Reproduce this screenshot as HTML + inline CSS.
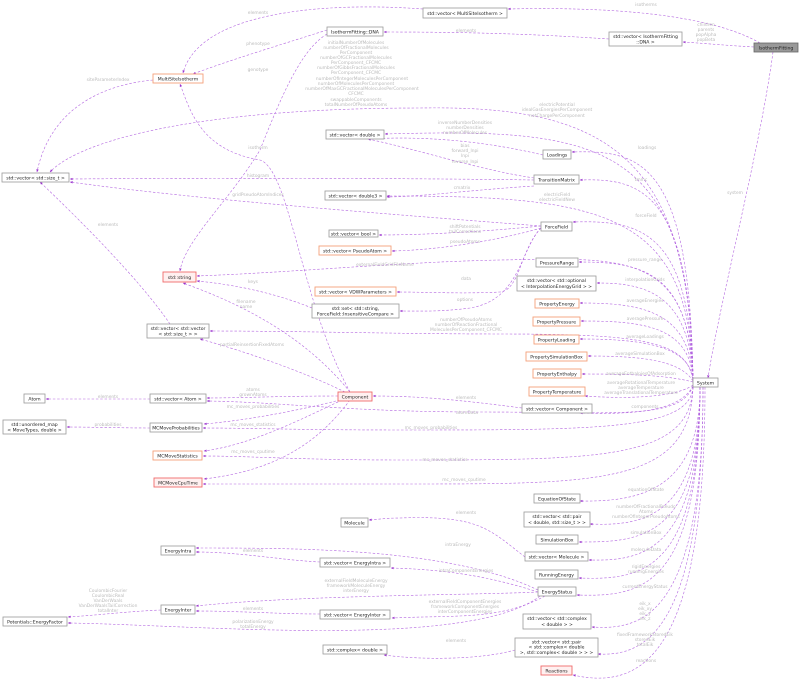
<!DOCTYPE html>
<html><head><meta charset="utf-8"><style>
html,body{margin:0;padding:0;background:#fff;}
svg{display:block;}
.n{fill:#fff;stroke:#999;stroke-width:0.8}
.o{fill:#fff;stroke:#f4a07a;stroke-width:0.9}
.r{fill:#fff0f0;stroke:#f06a6a;stroke-width:0.9}
.t{font-family:"DejaVu Sans","Liberation Sans",sans-serif;font-size:4.6px;fill:#222;text-anchor:middle}
.l{font-family:"DejaVu Sans","Liberation Sans",sans-serif;font-size:4.4px;fill:#bbb;text-anchor:middle}
.e{fill:none;stroke:#b366e0;stroke-width:0.6;stroke-dasharray:2.5,1.8}
</style></head><body>
<svg width="799" height="685" viewBox="0 0 799 685" xmlns="http://www.w3.org/2000/svg">
<defs><marker id="a" viewBox="0 0 10 10" refX="9" refY="5" markerWidth="5" markerHeight="5" orient="auto-start-reverse"><path d="M0,1 L10,5 L0,9 z" fill="#9a32cd"/></marker></defs>
<g class="e" marker-end="url(#a)">
<!-- IsothermFitting -->
<path d="M760,43 C720,20 640,6 508,9"/>
<path d="M754,47 C720,45 700,43 683,42"/>
<path d="M773,52 C760,150 720,300 708,378"/>
<path d="M609,39 C520,33 450,32 384,32"/>
<path d="M423,9 C330,2 200,10 183,73"/>
<path d="M327,30 C280,45 230,60 193,74"/>
<path d="M327,34 C300,50 280,100 260,150 C230,200 185,240 180,271"/>
<path d="M153,80 C100,85 50,110 37,172"/>
<path d="M350,392 C300,300 290,170 260,160 C200,150 190,110 180,84"/>
<path d="M693,380 C690,150 600,105 420,108 C200,108 80,140 50,172"/>
<!-- System to left nodes -->
<path d="M693,380 C690,140 600,128 385,134"/>
<path d="M693,380 C690,210 600,196 387,196"/>
<path d="M693,380 C690,160 640,150 572,152"/>
<path d="M693,380 C690,190 640,178 580,180"/>
<path d="M693,380 C690,230 640,220 573,222"/>
<path d="M693,380 C690,250 620,258 500,260 C400,262 300,272 197,276"/>
<path d="M693,383 C690,340 640,334 500,334 C400,334 300,331 210,331"/>
<path d="M693,380 C690,270 640,262 579,262"/>
<path d="M693,380 C690,290 640,283 597,283"/>
<path d="M693,380 C690,310 640,303 580,303"/>
<path d="M693,380 C690,325 640,321 581,321"/>
<path d="M693,380 C690,345 640,339 580,339"/>
<path d="M693,381 C680,360 640,356 588,356"/>
<path d="M693,382 C670,376 640,374 582,374"/>
<path d="M693,385 C680,395 640,400 585,396"/>
<path d="M693,386 C680,410 640,415 580,413"/>
<path d="M693,386 C680,420 620,412 480,412 C350,412 280,402 207,401"/>
<path d="M693,387 C690,430 600,430 400,430 C300,430 250,428 203,428"/>
<path d="M693,387 C690,460 600,460 400,460 C300,460 250,456 203,456"/>
<path d="M693,387 C690,485 600,484 400,484 C300,484 250,484 203,484"/>
<path d="M700,387 C700,490 640,502 580,501"/>
<path d="M700,387 C700,520 640,526 590,524"/>
<path d="M700,387 C700,540 640,542 579,542"/>
<path d="M700,387 C700,555 640,561 589,560"/>
<path d="M700,387 C700,575 640,580 579,578"/>
<path d="M700,387 C700,590 640,597 577,595"/>
<path d="M703,387 C703,620 640,630 592,627"/>
<path d="M703,387 C703,640 640,656 598,654"/>
<path d="M705,387 C705,660 640,690 573,675"/>
<path d="M693,386 C680,405 500,410 400,400 C390,398 380,396 373,396" style="display:none"/>
<!-- other classes -->
<path d="M543,155 C480,140 420,136 368,139"/>
<path d="M534,178 C480,170 420,150 368,139"/>
<path d="M534,180 C400,178 200,178 70,179"/>
<path d="M534,186 C470,190 430,196 387,197"/>
<path d="M541,226 C480,232 420,235 379,235"/>
<path d="M541,228 C500,240 440,250 392,251"/>
<path d="M541,228 C520,250 520,290 500,292 C460,294 430,292 397,292"/>
<path d="M541,228 C520,250 520,300 470,308 C440,312 420,311 400,311"/>
<path d="M541,226 C400,215 200,200 70,182"/>
<path d="M312,308 C280,295 240,285 197,281"/>
<path d="M350,392 C300,330 230,300 183,283"/>
<path d="M345,392 C300,370 240,350 200,339"/>
<path d="M338,396 C280,396 240,398 207,398"/>
<path d="M340,400 C300,410 250,420 204,424"/>
<path d="M342,400 C300,420 250,445 204,451"/>
<path d="M350,400 C320,440 280,470 204,479"/>
<path d="M170,324 C140,280 80,220 40,182"/>
<path d="M150,399 C120,399 80,399 46,399"/>
<path d="M150,428 C120,428 90,427 67,427"/>
<path d="M522,408 C460,400 420,396 373,396"/>
<path d="M525,557 C490,530 480,515 400,518 C390,518 380,519 369,520"/>
<path d="M538,590 C450,548 300,548 196,548"/>
<path d="M320,562 C280,560 240,552 196,552"/>
<path d="M538,592 C500,580 460,570 391,568"/>
<path d="M538,592 C480,595 300,595 196,606"/>
<path d="M320,614 C280,614 240,611 196,611"/>
<path d="M545,596 C500,620 460,615 392,618"/>
<path d="M161,610 C120,612 100,615 68,617"/>
<path d="M540,596 C470,650 200,625 68,623"/>
<path d="M515,650 C480,660 420,660 384,655"/>
</g>
<!-- labels -->
<g class="l">
<text x="646" y="6">isotherms</text>
<text x="706" y="26">children</text><text x="706" y="31">parents</text><text x="706" y="36">popAlpha</text><text x="706" y="41">popBeta</text>
<text x="466" y="32">elements</text>
<text x="258" y="14">elements</text>
<text x="258" y="45">phenotype</text>
<text x="258" y="71">genotype</text>
<text x="108" y="81">siteParameterIndex</text>
<text x="258" y="149">isotherm</text>
<text x="735" y="194">system</text>
<g><text x="356" y="44">initialNumberOfMolecules</text><text x="356" y="49">numberOfFractionalMolecules</text><text x="356" y="54">PerComponent</text><text x="356" y="59">numberOfGCFractionalMolecules</text><text x="356" y="64">PerComponent_CFCMC</text><text x="356" y="69">numberOfGibbsFractionalMolecules</text><text x="356" y="74">PerComponent_CFCMC</text><text x="362" y="80">numberOfIntegerMoleculesPerComponent</text><text x="356" y="85">numberOfMoleculesPerComponent</text><text x="362" y="90">numberOfMaxGCFractionalMoleculesPerComponent</text><text x="356" y="95">CFCMC</text><text x="356" y="101">swappableComponents</text><text x="356" y="106">totalNumberOfPseudoAtoms</text></g>
<text x="557" y="106">electricPotential</text><text x="557" y="111">idealGasEnergiesPerComponent</text><text x="557" y="117">netChargePerComponent</text>
<text x="465" y="124">inverseNumberDensities</text><text x="465" y="129">numberDensities</text><text x="465" y="134">numberOfMolecules</text>
<text x="465" y="147">bias</text><text x="465" y="152">forward_lnpi</text><text x="465" y="157">lnpi</text><text x="465" y="163">reverse_lnpi</text>
<text x="647" y="149">loadings</text>
<text x="258" y="177">histogram</text>
<text x="641" y="181">tmmc</text>
<text x="462" y="189">cmatrix</text>
<text x="557" y="196">electricField</text><text x="557" y="201">electricFieldNew</text>
<text x="258" y="196">gridPseudoAtomIndices</text>
<text x="108" y="226">elements</text>
<text x="646" y="217">forceField</text>
<text x="465" y="228">shiftPotentials</text><text x="465" y="233">tailCorrections</text>
<text x="465" y="243">pseudoAtoms</text>
<text x="385" y="266">externalFieldGridFileName</text>
<text x="645" y="261">pressure_range</text>
<text x="466" y="280">data</text>
<text x="645" y="281">interpolationGrids</text>
<text x="253" y="283">keys</text>
<text x="465" y="301">options</text>
<text x="645" y="302">averageEnergies</text>
<text x="246" y="303">filename</text><text x="246" y="308">name</text>
<text x="645" y="320">averagePressure</text>
<text x="466" y="321">numberOfPseudoAtoms</text><text x="466" y="326">numberOfReactionFractional</text><text x="466" y="331">MoleculesPerComponent_CFCMC</text>
<text x="645" y="338">averageLoadings</text>
<text x="252" y="346">partialReinsertionFixedAtoms</text>
<text x="640" y="355">averageSimulationBox</text>
<text x="641" y="375">averageEnthalpiesOfAdsorption</text>
<text x="641" y="384">averageRotationalTemperature</text><text x="641" y="389">averageTemperature</text><text x="641" y="394">averageTranslationalTemperature</text>
<text x="253" y="391">atoms</text><text x="253" y="396">grownAtoms</text>
<text x="108" y="398">elements</text>
<text x="466" y="399">elements</text>
<text x="645" y="408">components</text>
<text x="467" y="414">atomData</text>
<text x="253" y="408">mc_moves_probabilities</text>
<text x="431" y="429">mc_moves_probabilities</text>
<text x="108" y="426">probabilities</text>
<text x="253" y="426">mc_moves_statistics</text>
<text x="445" y="461">mc_moves_statistics</text>
<text x="253" y="453">mc_moves_cputime</text>
<text x="464" y="481">mc_moves_cputime</text>
<text x="646" y="491">equationOfState</text>
<text x="646" y="508">numberOfFractionalPseudo</text><text x="646" y="513">Atoms</text><text x="646" y="518">numberOfIntegerPseudoAtoms</text>
<text x="466" y="514">elements</text>
<text x="646" y="534">simulationBox</text>
<text x="458" y="546">intraEnergy</text>
<text x="253" y="552">elements</text>
<text x="646" y="551">moleculeData</text>
<text x="646" y="568">rigidEnergies</text><text x="646" y="573">runningEnergies</text>
<text x="466" y="572">intraComponentEnergies</text>
<text x="356" y="582">externalFieldMoleculeEnergy</text><text x="356" y="587">frameworkMoleculeEnergy</text><text x="356" y="592">interEnergy</text>
<text x="645" y="588">currentEnergyStatus</text>
<text x="108" y="592">CoulombicFourier</text><text x="108" y="597">CoulombicReal</text><text x="108" y="602">VanDerWaals</text><text x="108" y="607">VanDerWaalsTailCorrection</text><text x="108" y="612">totalInter</text>
<text x="465" y="603">externalFieldComponentEnergies</text><text x="465" y="608">frameworkComponentEnergies</text><text x="465" y="613">interComponentEnergies</text>
<text x="253" y="610">elements</text>
<text x="645" y="605">eik_x</text><text x="645" y="610">eik_xy</text><text x="645" y="615">eik_y</text><text x="645" y="620">eik_z</text>
<text x="253" y="623">polarizationEnergy</text><text x="253" y="628">totalEnergy</text>
<text x="645" y="636">fixedFrameworkStoredEik</text><text x="645" y="641">storedEik</text><text x="645" y="646">totalEik</text>
<text x="456" y="642">elements</text>
<text x="646" y="662">reactions</text>
</g>
<!-- nodes -->
<g>
<rect class="n" x="423" y="8" width="84" height="10"/><text class="t" x="465" y="15">std::vector&lt; MultiSiteIsotherm &gt;</text>
<rect class="n" x="327" y="27" width="56" height="9"/><text class="t" x="355" y="33.5">IsothermFitting::DNA</text>
<rect class="n" x="609" y="32" width="73" height="14"/><text class="t" x="645.5" y="38">std::vector&lt; IsothermFitting</text><text class="t" x="645.5" y="43.5">::DNA &gt;</text>
<rect x="754" y="43" width="44" height="9" fill="#999" stroke="#666" stroke-width="0.8"/><text class="t" x="776" y="49.5">IsothermFitting</text>
<rect class="o" x="153" y="74" width="50" height="9"/><text class="t" x="178" y="80.5">MultiSiteIsotherm</text>
<rect class="n" x="326" y="130" width="58" height="9"/><text class="t" x="355" y="136.5">std::vector&lt; double &gt;</text>
<rect class="n" x="2" y="173" width="67" height="9"/><text class="t" x="35.5" y="179.5">std::vector&lt; std::size_t &gt;</text>
<rect class="n" x="325" y="191" width="61" height="9"/><text class="t" x="355.5" y="197.5">std::vector&lt; double3 &gt;</text>
<rect class="n" x="543" y="150" width="28" height="9"/><text class="t" x="557" y="156.5">Loadings</text>
<rect class="n" x="534" y="175" width="45" height="9"/><text class="t" x="556.5" y="181.5">TransitionMatrix</text>
<rect class="n" x="541" y="222" width="31" height="9"/><text class="t" x="556.5" y="228.5">ForceField</text>
<rect class="n" x="329" y="230" width="49" height="7"/><text class="t" x="353.5" y="235.5">std::vector&lt; bool &gt;</text>
<rect class="o" x="319" y="246" width="72" height="9"/><text class="t" x="355" y="252.5">std::vector&lt; PseudoAtom &gt;</text>
<rect class="r" x="163" y="272" width="33" height="10"/><text class="t" x="179.5" y="279">std::string</text>
<rect class="o" x="315" y="287" width="81" height="9"/><text class="t" x="355.5" y="293.5">std::vector&lt; VDWParameters &gt;</text>
<rect class="n" x="312" y="304" width="87" height="14"/><text class="t" x="355.5" y="310">std::set&lt; std::string,</text><text class="t" x="355.5" y="315.5">ForceField::InsensitiveCompare &gt;</text>
<rect class="n" x="147" y="324" width="62" height="14"/><text class="t" x="178" y="330">std::vector&lt; std::vector</text><text class="t" x="178" y="335.5">&lt; std::size_t &gt; &gt;</text>
<rect class="n" x="536" y="258" width="42" height="9"/><text class="t" x="557" y="264.5">PressureRange</text>
<rect class="n" x="517" y="276" width="79" height="15"/><text class="t" x="556.5" y="282">std::vector&lt; std::optional</text><text class="t" x="556.5" y="288">&lt; InterpolationEnergyGrid &gt; &gt;</text>
<rect class="o" x="535" y="299" width="44" height="9"/><text class="t" x="557" y="305.5">PropertyEnergy</text>
<rect class="o" x="533" y="317" width="47" height="9"/><text class="t" x="556.5" y="323.5">PropertyPressure</text>
<rect class="o" x="534" y="335" width="45" height="9"/><text class="t" x="556.5" y="341.5">PropertyLoading</text>
<rect class="o" x="526" y="352" width="61" height="9"/><text class="t" x="556.5" y="358.5">PropertySimulationBox</text>
<rect class="o" x="533" y="369" width="48" height="9"/><text class="t" x="557" y="375.5">PropertyEnthalpy</text>
<rect class="o" x="529" y="387" width="56" height="9"/><text class="t" x="557" y="393.5">PropertyTemperature</text>
<rect class="n" x="522" y="404" width="70" height="9"/><text class="t" x="557" y="410.5">std::vector&lt; Component &gt;</text>
<rect class="n" x="693" y="378" width="25" height="9"/><text class="t" x="705.5" y="384.5">System</text>
<rect class="n" x="24" y="394" width="21" height="9"/><text class="t" x="34.5" y="400.5">Atom</text>
<rect class="n" x="150" y="394" width="56" height="9"/><text class="t" x="178" y="400.5">std::vector&lt; Atom &gt;</text>
<rect class="r" x="338" y="392" width="34" height="9"/><text class="t" x="355" y="398.5">Component</text>
<rect class="n" x="3" y="420" width="63" height="14"/><text class="t" x="34.5" y="426">std::unordered_map</text><text class="t" x="34.5" y="431.5">&lt; MoveTypes, double &gt;</text>
<rect class="n" x="150" y="423" width="52" height="9"/><text class="t" x="176" y="429.5">MCMoveProbabilities</text>
<rect class="o" x="153" y="451" width="49" height="9"/><text class="t" x="177.5" y="457.5">MCMoveStatistics</text>
<rect class="r" x="154" y="478" width="48" height="9"/><text class="t" x="178" y="484.5">MCMoveCpuTime</text>
<rect class="n" x="534" y="494" width="46" height="9"/><text class="t" x="557" y="500.5">EquationOfState</text>
<rect class="n" x="524" y="512" width="66" height="15"/><text class="t" x="557" y="518">std::vector&lt; std::pair</text><text class="t" x="557" y="524">&lt; double, std::size_t &gt; &gt;</text>
<rect class="n" x="536" y="535" width="42" height="9"/><text class="t" x="557" y="541.5">SimulationBox</text>
<rect class="n" x="525" y="552" width="63" height="9"/><text class="t" x="556.5" y="558.5">std::vector&lt; Molecule &gt;</text>
<rect class="n" x="535" y="570" width="43" height="9"/><text class="t" x="556.5" y="576.5">RunningEnergy</text>
<rect class="n" x="538" y="587" width="38" height="9"/><text class="t" x="557" y="593.5">EnergyStatus</text>
<rect class="n" x="523" y="614" width="68" height="15"/><text class="t" x="557" y="620">std::vector&lt; std::complex</text><text class="t" x="557" y="626">&lt; double &gt; &gt;</text>
<rect class="n" x="515" y="638" width="83" height="19"/><text class="t" x="556.5" y="643.5">std::vector&lt; std::pair</text><text class="t" x="556.5" y="648.5">&lt; std::complex&lt; double</text><text class="t" x="556.5" y="654">&gt;, std::complex&lt; double &gt; &gt; &gt;</text>
<rect class="r" x="541" y="666" width="31" height="9"/><text class="t" x="556.5" y="672.5">Reactions</text>
<rect class="n" x="341" y="518" width="27" height="9"/><text class="t" x="354.5" y="524.5">Molecule</text>
<rect class="n" x="161" y="546" width="34" height="9"/><text class="t" x="178" y="552.5">EnergyIntra</text>
<rect class="n" x="320" y="558" width="70" height="9"/><text class="t" x="355" y="564.5">std::vector&lt; EnergyIntra &gt;</text>
<rect class="n" x="161" y="605" width="34" height="9"/><text class="t" x="178" y="611.5">EnergyInter</text>
<rect class="n" x="320" y="610" width="70" height="9"/><text class="t" x="355" y="616.5">std::vector&lt; EnergyInter &gt;</text>
<rect class="n" x="3" y="617" width="64" height="9"/><text class="t" x="35" y="623.5">Potentials::EnergyFactor</text>
<rect class="n" x="323" y="645" width="64" height="9"/><text class="t" x="355" y="651.5">std::complex&lt; double &gt;</text>
</g>
</svg>
</body></html>
